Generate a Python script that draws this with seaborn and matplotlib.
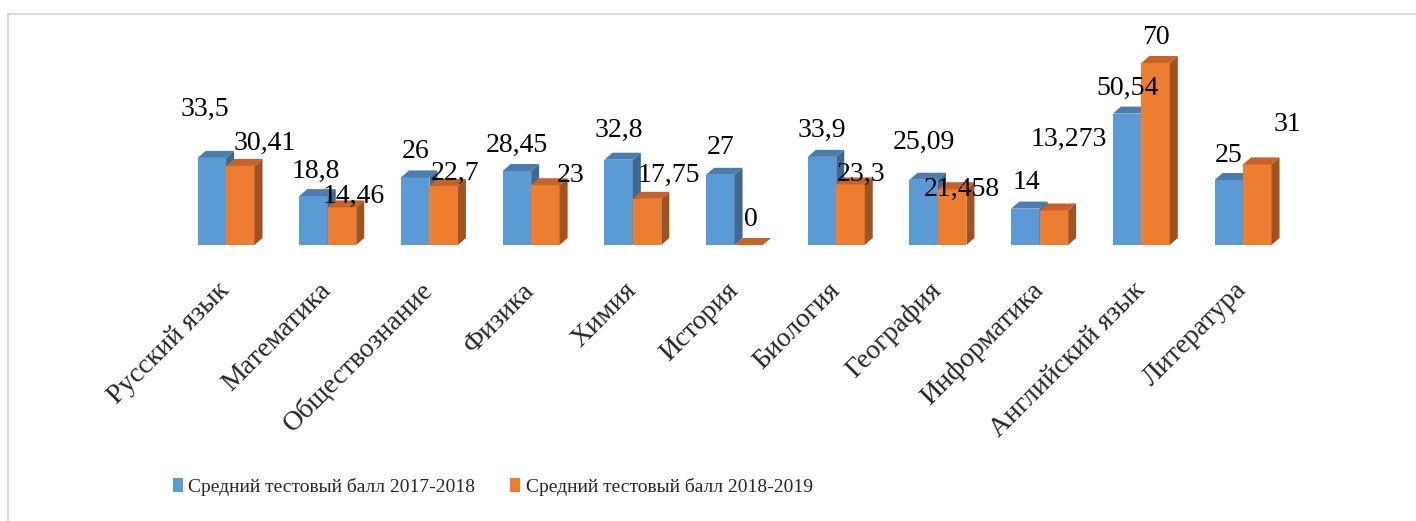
import matplotlib
matplotlib.use("Agg")
import matplotlib.pyplot as plt
from matplotlib.patches import Polygon, Patch
from matplotlib.lines import Line2D
import seaborn as sns
import pandas as pd

subjects = ["Русский язык", "Математика", "Обществознание", "Физика", "Химия",
            "История", "Биология", "География", "Информатика", "Английский язык",
            "Литература"]
series_names = ["Средний тестовый балл 2017-2018", "Средний тестовый балл 2018-2019"]
values_2017 = [33.5, 18.8, 26, 28.45, 32.8, 27, 33.9, 25.09, 14, 50.54, 25]
values_2018 = [30.41, 14.46, 22.7, 23, 17.75, 0, 23.3, 21.458, 13.273, 70, 31]

# data-label placement (pixel offsets from the top centre of each bar)
label_off_2017 = [(-7, 48), (2, 25), (0, 26), (0, 26), (0, 29), (0, 27),
                  (0, 26), (0, 37), (1, 26), (0, 25), (0, 25)]
label_off_2018 = [(24, 23), (12, 11), (11, 13), (25, 10), (22, 23), (2, 25),
                  (11, 10), (10, 0), (15, 71), (0, 25), (30, 40)]

sns.set_theme(style="white")
plt.rcParams["font.family"] = ["Liberation Serif", "DejaVu Serif"]

front = ["#5B9BD5", "#ED7D31"]
top_c = ["#4A7CB0", "#C6632A"]
side_c = ["#3D6894", "#A0531E"]

df = pd.DataFrame({
    "subject": subjects * 2,
    "value": values_2017 + values_2018,
    "series": [series_names[0]] * len(subjects) + [series_names[1]] * len(subjects),
})

W, H = 1416, 521
fig = plt.figure(figsize=(W / 100, H / 100), dpi=100)
ax = fig.add_axes([175.2 / W, 276 / H, 1118.7 / W, 208 / H])

sns.barplot(data=df, x="subject", y="value", hue="series", order=subjects,
            hue_order=series_names, palette=front, width=0.56, saturation=1,
            ax=ax, legend=False, err_kws={"linewidth": 0})
ax.set_xlim(-0.5, len(subjects) - 0.5)
ax.set_ylim(0, 80)
for s in ax.spines.values():
    s.set_visible(False)
ax.set_yticks([])
ax.set_xlabel("")
ax.set_ylabel("")

# 3D depth in data units
px_x = (len(subjects)) / 1118.7
px_y = 80 / 208
dx, dy = 8 * px_x, 7 * px_y

offsets = [label_off_2017, label_off_2018]
for k, cont in enumerate(ax.containers[:2]):
    for i, bar in enumerate(cont):
        bar.set_zorder(2 * k + 1)
        bar.set_linewidth(0)
        x0, w, h = bar.get_x(), bar.get_width(), bar.get_height()
        topp = Polygon([(x0, h), (x0 + w, h), (x0 + w + dx, h + dy), (x0 + dx, h + dy)],
                       closed=True, facecolor=top_c[k], edgecolor="none", zorder=2 * k + 1.5)
        sidep = Polygon([(x0 + w, 0), (x0 + w + dx, dy), (x0 + w + dx, h + dy), (x0 + w, h)],
                        closed=True, facecolor=side_c[k], edgecolor="none", zorder=2 * k + 1.5)
        ax.add_patch(topp)
        ax.add_patch(sidep)
        lab = f"{h:g}".replace(".", ",")
        ox, oy = offsets[k][i]
        ax.annotate(lab, (x0 + w / 2, h), xytext=(ox * 0.72, oy * 0.72),
                    textcoords="offset points", ha="center", va="center",
                    fontsize=20, color="black", zorder=10)

ax.set_xticks(range(len(subjects)))
ax.set_xticklabels(subjects, rotation=45, ha="right", va="center",
                   rotation_mode="anchor", fontsize=20)
ax.tick_params(axis="x", length=0, pad=30)

handles = [Patch(facecolor=c, edgecolor="none") for c in front]
fig.legend(handles, series_names, loc="center", bbox_to_anchor=(493 / W, 1 - 487 / H),
           ncol=2, frameon=False, fontsize=14, handlelength=0.5, handleheight=0.75,
           handletextpad=0.3, columnspacing=1.8)

fig.add_artist(Line2D([8 / W, 8 / W], [0, 1 - 14 / H], color="#D9D9D9", lw=1.5,
                      transform=fig.transFigure))
fig.add_artist(Line2D([8 / W, 1], [1 - 14 / H, 1 - 14 / H], color="#D9D9D9", lw=1.5,
                      transform=fig.transFigure))

fig.savefig("out.png", dpi=100)
